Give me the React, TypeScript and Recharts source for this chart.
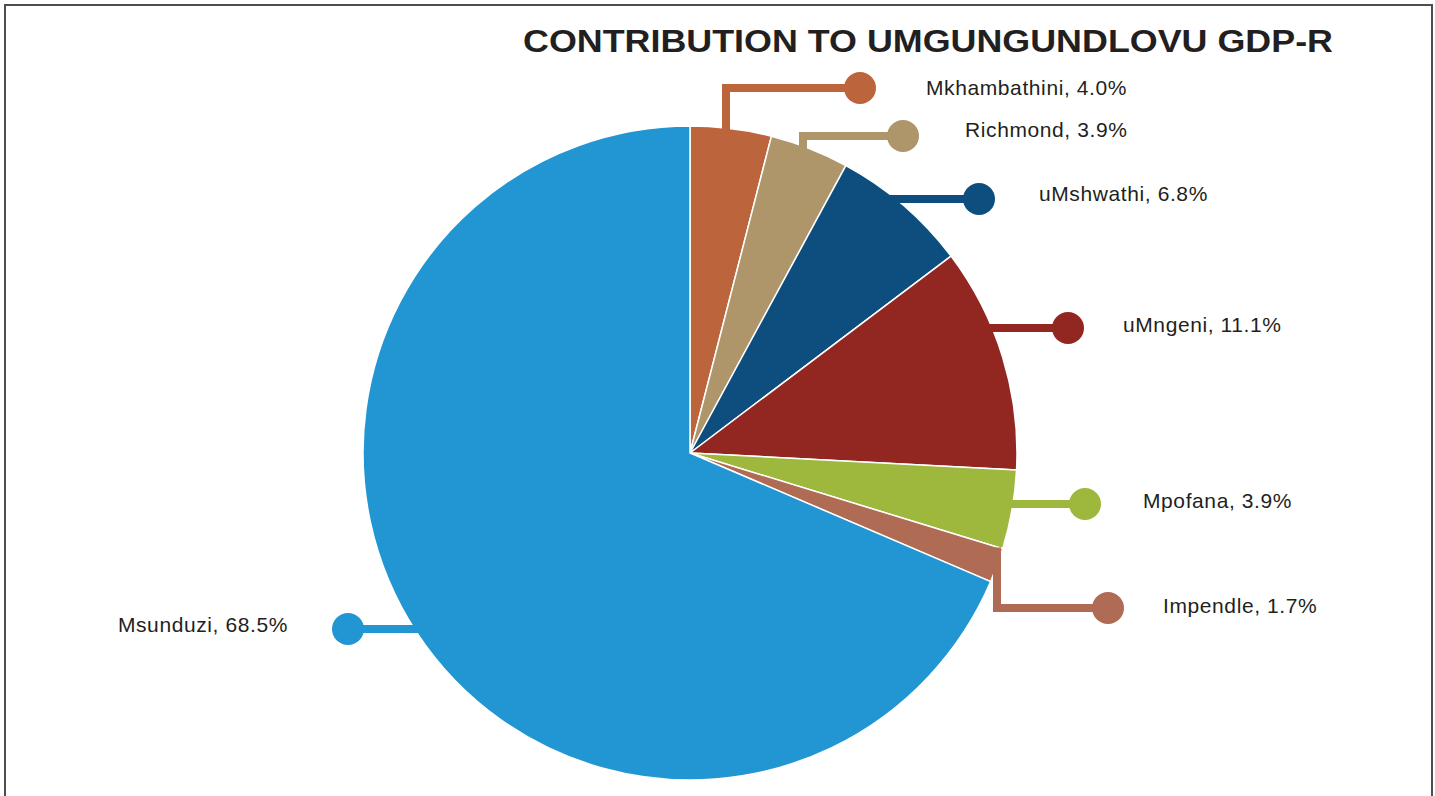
import React from 'react';
import { PieChart, Pie, Cell } from 'recharts';

// GDP-R share per local municipality (%), clockwise from 12 o'clock
const municipalities = ['Mkhambathini', 'Richmond', 'uMshwathi', 'uMngeni', 'Mpofana', 'Impendle', 'Msunduzi'];
const shares = [4.0, 3.9, 6.8, 11.1, 3.9, 1.7, 68.5];
const sliceColors = ['#BC643C', '#AE966A', '#0D4E7E', '#922722', '#9DB83C', '#B06B55', '#2196D2'];

const pieData = municipalities.map((name, i) => ({ name, value: shares[i] }));

// callout layout relative to the pie centre: dot offset, optional elbow x, text offset
const callouts = [
  { dot: [170, -365], elbow: 36, text: [66, 7] },
  { dot: [213, -317], elbow: 113, text: [62, 1] },
  { dot: [289, -254], text: [60, 2] },
  { dot: [378, -125], text: [55, 4] },
  { dot: [395, 51], text: [58, 4] },
  { dot: [418, 155], elbow: 307, text: [55, 5] },
  { dot: [-342, 176], text: [-60, 3] },
];

const FONT = '"Liberation Sans", Arial, Helvetica, sans-serif';

const renderCallout = (props: any) => {
  const { cx, cy, outerRadius, index } = props;
  const c = callouts[index];
  const color = sliceColors[index];
  const dx = cx + c.dot[0];
  const dy = cy + c.dot[1];
  let d: string;
  if (c.elbow !== undefined) {
    const x = cx + c.elbow;
    const h = Math.sqrt(outerRadius * outerRadius - c.elbow * c.elbow);
    const y0 = dy < cy ? cy - h + 18 : cy + h - 18;
    d = `M${x},${y0} V${dy} H${dx}`;
  } else {
    const h = Math.sqrt(outerRadius * outerRadius - c.dot[1] * c.dot[1]);
    const x0 = dx > cx ? cx + h - 20 : cx - h + 20;
    d = `M${x0},${dy} H${dx}`;
  }
  const right = c.text[0] > 0;
  return (
    <g key={`callout-${index}`}>
      <path d={d} stroke={color} strokeWidth={8} fill="none" strokeLinejoin="miter" />
      <circle cx={dx} cy={dy} r={16} fill={color} />
      <text
        x={dx + c.text[0]}
        y={dy + c.text[1]}
        textAnchor={right ? 'start' : 'end'}
        fill="#231F20"
        fontFamily={FONT}
        fontSize={21}
        letterSpacing={0.6}
      >
        {`${municipalities[index]}, ${shares[index].toFixed(1)}%`}
      </text>
    </g>
  );
};

const App: React.FC = () => {
  return (
    <div style={{ position: 'fixed', left: 0, top: 0, width: 1435, height: 796, overflow: 'hidden', background: '#fff' }}>
      <div
        style={{
          position: 'absolute',
          left: 4,
          top: 4,
          width: 1425,
          height: 820,
          border: '2px solid #4d4d4d',
        }}
      />
      <div style={{ position: 'absolute', left: 0, top: 0 }}>
        <PieChart width={1435} height={796} margin={{ top: 0, right: 0, bottom: 0, left: 0 }}>
          <Pie
            data={pieData}
            dataKey="value"
            nameKey="name"
            cx={690}
            cy={453}
            outerRadius={327}
            startAngle={90}
            endAngle={-270}
            stroke="#ffffff"
            strokeWidth={1.5}
            label={renderCallout}
            labelLine={false}
            isAnimationActive={false}
          >
            {pieData.map((entry, i) => (
              <Cell key={entry.name} fill={sliceColors[i]} />
            ))}
          </Pie>
        </PieChart>
      </div>
      <svg width={1435} height={80} style={{ position: 'absolute', left: 0, top: 0 }}>
        <text
          x={523}
          y={52}
          fontFamily={FONT}
          fontWeight="bold"
          fontSize={31}
          fill="#231F20"
          textLength={810}
          lengthAdjust="spacingAndGlyphs"
        >
          CONTRIBUTION TO UMGUNGUNDLOVU GDP-R
        </text>
      </svg>
    </div>
  );
};

export default App;
